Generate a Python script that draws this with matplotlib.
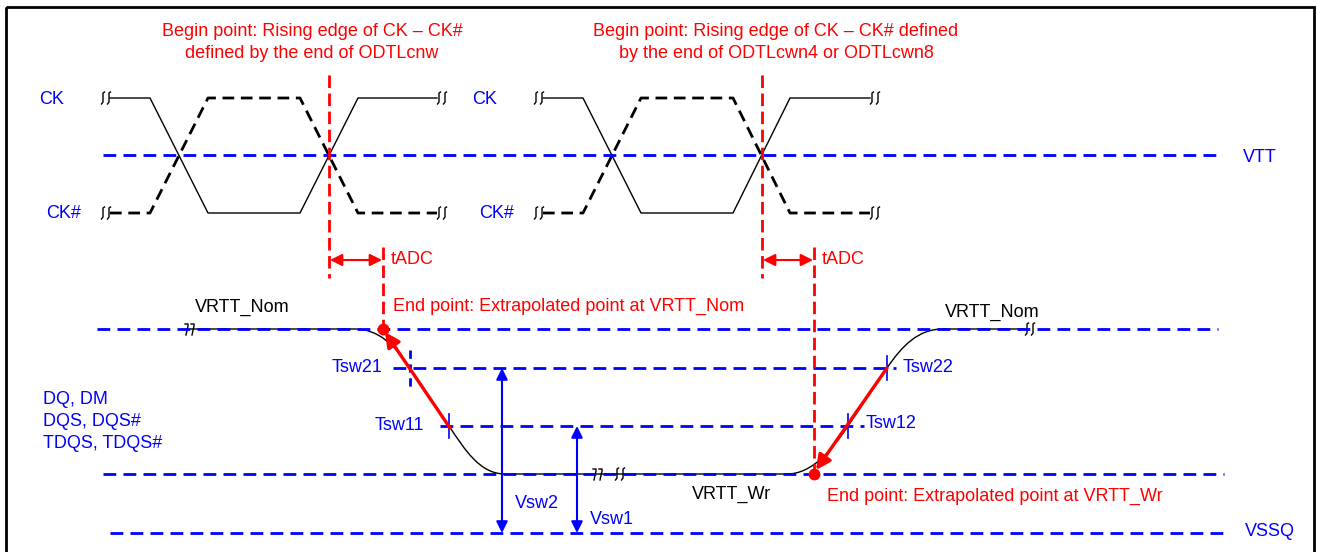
import matplotlib
matplotlib.use('Agg')
import matplotlib.pyplot as plt
from matplotlib.path import Path
from matplotlib.patches import PathPatch, Rectangle

plt.rcParams['font.family'] = ['Liberation Sans', 'DejaVu Sans']

BLUE = '#0000FF'
RED = '#FF0000'

# clock waveforms (x positions of corners, 1 = high, 0 = low)
ck_x = [[110, 150, 208, 300, 358, 437], [543, 583, 641, 733, 790, 870]]
ck_lvl = [1, 1, 0, 0, 1, 1]
ckb_lvl = [0, 0, 1, 1, 0, 0]
CK_HIGH, CK_LOW = 98, 213

# reference levels: name -> (y, x start, x end)
ref_names = ['VTT', 'VRTT_Nom', 'Tsw2', 'Tsw1', 'VRTT_Wr', 'VSSQ']
ref_y = [155, 329, 368, 426, 474, 533]
ref_x0 = [103, 97, 393, 440, 103, 110]
ref_x1 = [1222, 1218, 896, 864, 1224, 1230]

# DQ waveform: flat, falling edge, flat, rising edge, flat
dq_pts = [(190, 329), (355, 329), (378, 329), (395, 345), (410, 368),
          (449, 426), (465, 450), (480, 474), (505, 474),
          (787, 474), (812, 474), (832, 450), (848, 426),
          (887, 368), (902, 346), (918, 329), (943, 329), (1025, 329)]
dq_codes = [Path.MOVETO, Path.LINETO, Path.CURVE4, Path.CURVE4, Path.CURVE4,
            Path.LINETO, Path.CURVE4, Path.CURVE4, Path.CURVE4,
            Path.LINETO, Path.CURVE4, Path.CURVE4, Path.CURVE4,
            Path.LINETO, Path.CURVE4, Path.CURVE4, Path.CURVE4, Path.LINETO]

# switching points (x, y) and labels
tsw_names = ['Tsw21', 'Tsw11', 'Tsw12', 'Tsw22']
tsw_x = [410, 449, 848, 887]
tsw_y = [368, 426, 426, 368]

# begin points (clock crossings) and end points (extrapolated)
begin_x = [329, 762]
end_x = [383, 814]
end_y = [329, 474]

fig = plt.figure(figsize=(13.17, 5.52), dpi=100)
ax = fig.add_axes([0, 0, 1, 1])
ax.set_xlim(0, 1317)
ax.set_ylim(552, 0)
ax.axis('off')

ax.add_patch(Rectangle((6, 7), 1308, 560, fill=False, lw=2.0, ec='black'))


def brk(x, y, kind='J', n=2, gap=6):
    for i in range(n):
        xi = x + i * gap
        if kind == 'J':
            pts = [(xi + 1.5, y - 6), (xi, y - 5), (xi, y + 4), (xi - 1.5, y + 6)]
        else:
            pts = [(xi - 2, y - 5), (xi + 1, y - 5), (xi + 1, y - 3), (xi - 1, y + 6)]
        ax.plot([p[0] for p in pts], [p[1] for p in pts], color='black', lw=1, zorder=4)


# clocks
for xs in ck_x:
    ax.plot(xs, [CK_HIGH if v else CK_LOW for v in ck_lvl], color='black', lw=1.0, zorder=3)
    ax.plot(xs, [CK_HIGH if v else CK_LOW for v in ckb_lvl], color='black', lw=2.0,
            linestyle=(0, (4.2, 2.4)), zorder=3)
    brk(xs[0] - 7, CK_HIGH)
    brk(xs[0] - 7, CK_LOW)
    brk(xs[-1] + 2, CK_HIGH)
    brk(xs[-1] + 2, CK_LOW)

# DQ waveform
ax.add_patch(PathPatch(Path(dq_pts, dq_codes), fill=False, ec='black', lw=1.0, zorder=3))
brk(187, 329, kind='7')
brk(595, 474, kind='7')
brk(617, 474)
brk(1027, 329)

# reference lines
for y, x0, x1 in zip(ref_y, ref_x0, ref_x1):
    ax.plot([x0, x1], [y, y], color=BLUE, lw=2.0, linestyle=(0, (4.6, 2.6)), zorder=5)

# switching point ticks
for i, (x, y) in enumerate(zip(tsw_x, tsw_y)):
    if i == 0:
        ax.plot([x, x], [y - 18, y + 20], color=BLUE, lw=2.0, linestyle=(0, (3, 2)), zorder=6)
    else:
        ax.plot([x, x], [y - 12, y + 12], color=BLUE, lw=1.2, zorder=6)

# red begin-point verticals
for bx, ex, ey in zip(begin_x, end_x, end_y):
    ax.plot([bx, bx], [75, 278], color=RED, lw=2.0, linestyle=(0, (4.5, 2)), zorder=7)
    ax.plot([ex, ex], [247, ey - 4], color=RED, lw=2.0, linestyle=(0, (4.5, 2)), zorder=7)
    ax.annotate('', xy=(bx + 1, 260), xytext=(ex - 1, 260),
                arrowprops=dict(arrowstyle='<|-|>', color=RED, lw=1.5,
                                mutation_scale=18, shrinkA=0, shrinkB=0), zorder=8)
    ax.text(ex + 8, 260, 'tADC', color=RED, fontsize=13, va='center', ha='left')
    ax.plot(ex, ey, 'o', color=RED, ms=7.5, zorder=9)

# red extrapolation arrows
ax.annotate('', xy=(385, 332), xytext=(450, 428),
            arrowprops=dict(arrowstyle='-|>', color=RED, lw=2.4,
                            mutation_scale=22, shrinkA=0, shrinkB=0), zorder=8)
ax.annotate('', xy=(816, 470), xytext=(887, 368),
            arrowprops=dict(arrowstyle='-|>', color=RED, lw=2.4,
                            mutation_scale=22, shrinkA=0, shrinkB=0), zorder=8)

# Vsw arrows
for x, y, lab, ly in [(502, 368, 'Vsw2', 503), (577, 426, 'Vsw1', 519)]:
    ax.annotate('', xy=(x, y), xytext=(x, 533),
                arrowprops=dict(arrowstyle='<|-|>', color=BLUE, lw=1.5,
                                mutation_scale=17, shrinkA=0, shrinkB=0), zorder=8)
    ax.text(x + 13, ly, lab, color=BLUE, fontsize=13, va='center', ha='left')

# texts
ax.text(312, 32, 'Begin point: Rising edge of CK \u2013 CK#', color=RED, fontsize=13, ha='center', va='center')
ax.text(312, 53, 'defined by the end of ODTLcnw', color=RED, fontsize=13, ha='center', va='center')
ax.text(776, 32, 'Begin point: Rising edge of CK \u2013 CK# defined', color=RED, fontsize=13, ha='center', va='center')
ax.text(776, 53, 'by the end of ODTLcwn4 or ODTLcwn8', color=RED, fontsize=13, ha='center', va='center')

for cx in [39, 472]:
    ax.text(cx, 100, 'CK', color=BLUE, fontsize=13, va='center', ha='left')
    ax.text(cx + 7, 213, 'CK#', color=BLUE, fontsize=13, va='center', ha='left')

ax.text(1243, 157, 'VTT', color=BLUE, fontsize=13, va='center', ha='left')
ax.text(1245, 532, 'VSSQ', color=BLUE, fontsize=13, va='center', ha='left')
ax.text(43, 400, 'DQ, DM', color=BLUE, fontsize=13, va='center', ha='left')
ax.text(43, 422, 'DQS, DQS#', color=BLUE, fontsize=13, va='center', ha='left')
ax.text(43, 444, 'TDQS, TDQS#', color=BLUE, fontsize=13, va='center', ha='left')

ax.text(383, 368, tsw_names[0], color=BLUE, fontsize=13, va='center', ha='right')
ax.text(424, 426, tsw_names[1], color=BLUE, fontsize=13, va='center', ha='right')
ax.text(866, 424, tsw_names[2], color=BLUE, fontsize=13, va='center', ha='left')
ax.text(903, 367, tsw_names[3], color=BLUE, fontsize=13, va='center', ha='left')

ax.text(195, 307, 'VRTT_Nom', color='black', fontsize=13, va='center', ha='left')
ax.text(945, 312, 'VRTT_Nom', color='black', fontsize=13, va='center', ha='left')
ax.text(692, 494, 'VRTT_Wr', color='black', fontsize=13, va='center', ha='left')

ax.text(393, 306, 'End point: Extrapolated point at VRTT_Nom', color=RED, fontsize=13, va='center', ha='left')
ax.text(827, 496, 'End point: Extrapolated point at VRTT_Wr', color=RED, fontsize=13, va='center', ha='left')

fig.savefig('out.png', dpi=100)
